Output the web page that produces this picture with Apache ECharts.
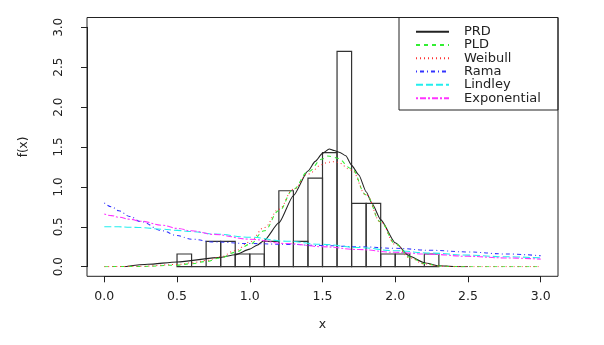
<!DOCTYPE html>
<html>
<head>
<meta charset="utf-8">
<script src="https://cdn.jsdelivr.net/npm/echarts@6/dist/echarts.min.js"></script>
<style>
  html, body { margin: 0; padding: 0; background: #fff; }
  #chart { width: 604px; height: 345px; }
</style>
</head>
<body>
<div id="chart"></div>
<script>
// Histogram of the sample (density scale), bins of width 0.1
const binEdges = [0.5, 0.6, 0.7, 0.8, 0.9, 1.0, 1.1, 1.2, 1.3, 1.4, 1.5, 1.6, 1.7, 1.8, 1.9, 2.0, 2.1, 2.2, 2.3];
const binDensity = [0.159, 0, 0.317, 0.317, 0.159, 0.159, 0.317, 0.952, 0.317, 1.111, 1.429, 2.698, 0.794, 0.794, 0.159, 0.159, 0, 0.159];

// Fitted density curves
const prdX = [0.14, 0.3, 0.5, 0.8, 0.9, 1.0, 1.05, 1.1, 1.2, 1.3, 1.4, 1.45, 1.5, 1.547, 1.58, 1.62, 1.66, 1.7, 1.75, 1.8, 1.84, 1.9, 2.0, 2.1, 2.2, 2.3, 2.4, 2.5];
const prdY = [0.0, 0.03, 0.06, 0.117, 0.15, 0.22, 0.27, 0.33, 0.55, 0.89, 1.2, 1.32, 1.42, 1.475, 1.455, 1.43, 1.39, 1.27, 1.15, 0.94, 0.795, 0.59, 0.3, 0.13, 0.05, 0.012, 0.003, 0.0];

const bellX = [0, 0.25, 0.5, 0.6, 0.7, 0.8, 0.9, 1.0, 1.1, 1.2, 1.3, 1.4, 1.5, 1.53, 1.57, 1.6, 1.7, 1.8, 1.9, 2.0, 2.1, 2.2, 2.3, 2.4, 2.5, 3.0];
const pldY = [0, 0.003, 0.02, 0.038, 0.065, 0.11, 0.18, 0.28, 0.45, 0.70, 0.97, 1.19, 1.35, 1.387, 1.38, 1.36, 1.23, 0.9, 0.56, 0.29, 0.12, 0.04, 0.01, 0.002, 0, 0];
const weibullY = [0, 0.005, 0.028, 0.048, 0.078, 0.125, 0.2, 0.31, 0.49, 0.72, 0.97, 1.16, 1.28, 1.305, 1.316, 1.31, 1.21, 0.9, 0.56, 0.28, 0.11, 0.035, 0.008, 0.001, 0, 0];

const tailX = [0, 0.05, 0.1, 0.175, 0.25, 0.4, 0.5, 0.6, 0.75, 1.0, 1.25, 1.5, 1.75, 2.0, 2.25, 2.5, 2.75, 3.0];
const ramaY = [0.80, 0.75, 0.70, 0.63, 0.565, 0.45, 0.39, 0.345, 0.31, 0.29, 0.28, 0.265, 0.25, 0.23, 0.205, 0.185, 0.16, 0.137];
const lindleyY = [0.50, 0.50, 0.50, 0.495, 0.49, 0.47, 0.455, 0.44, 0.41, 0.37, 0.32, 0.28, 0.24, 0.20, 0.17, 0.145, 0.125, 0.11];
const exponentialY = [0.66, 0.64, 0.62, 0.595, 0.57, 0.52, 0.48, 0.45, 0.405, 0.345, 0.29, 0.25, 0.215, 0.18, 0.155, 0.13, 0.11, 0.095];

const xTicks = [0, 0.5, 1.0, 1.5, 2.0, 2.5, 3.0];
const yTicks = [0, 0.5, 1.0, 1.5, 2.0, 2.5, 3.0];

const seriesNames = ['PRD', 'PLD', 'Weibull', 'Rama', 'Lindley', 'Exponential'];

// layout of the plotting region
const W = 604, H = 345;
const grid = { left: 104.3, right: 63.3, top: 27.3, bottom: 78.3 };
const frame = { x0: 87, y0: 17.5, x1: 558, y1: 276.3 };
const legendBox = { x0: 399, y0: 17.5, x1: 558, y1: 110 };
const FONT = 'DejaVu Sans';
const INK = '#222';

const pairs = (xs, ys) => xs.map((x, i) => [x, ys[i]]);

const histData = binDensity.map((d, i) => [binEdges[i], binEdges[i + 1], d]);

function curve(name, xs, ys, color, dash, smooth) {
  return {
    name, type: 'line', data: pairs(xs, ys),
    symbol: 'none', smooth: smooth, smoothMonotone: 'x',
    lineStyle: { color, width: 1.05, type: dash },
    itemStyle: { color },
    z: 3
  };
}

const chart = echarts.init(document.getElementById('chart'), null, { renderer: 'canvas' });
chart.setOption({
  animation: false,
  backgroundColor: '#fff',
  grid: { left: grid.left, right: grid.right, top: grid.top, bottom: grid.bottom, containLabel: false },
  xAxis: {
    type: 'value', min: xTicks[0], max: xTicks[xTicks.length - 1], interval: 0.5,
    offset: frame.y1 - (H - grid.bottom),
    name: 'x', nameLocation: 'middle', nameGap: 42,
    nameTextStyle: { fontFamily: FONT, fontSize: 12.5, color: INK },
    axisLine: { show: true, onZero: false, lineStyle: { color: INK, width: 1 } },
    axisTick: { show: true, length: 6, lineStyle: { color: INK } },
    axisLabel: { margin: 14, fontFamily: FONT, fontSize: 12.5, color: INK, formatter: v => v.toFixed(1) },
    splitLine: { show: false }
  },
  yAxis: {
    type: 'value', min: yTicks[0], max: yTicks[yTicks.length - 1], interval: 0.5,
    offset: grid.left - frame.x0,
    name: 'f(x)', nameLocation: 'middle', nameGap: 57, nameRotate: 90,
    nameTextStyle: { fontFamily: FONT, fontSize: 12, color: INK },
    axisLine: { show: true, onZero: false, lineStyle: { color: INK, width: 1 } },
    axisTick: { show: true, length: 6, lineStyle: { color: INK } },
    axisLabel: { margin: 22, rotate: 90, fontFamily: FONT, fontSize: 12, color: INK, formatter: v => v.toFixed(1) },
    splitLine: { show: false }
  },
  legend: {
    data: seriesNames,
    orient: 'vertical',
    left: 415, top: 25,
    padding: 0,
    itemWidth: 33, itemHeight: 8, itemGap: 0,
    itemStyle: { color: 'rgba(0,0,0,0)', borderWidth: 0, opacity: 0 },
    textStyle: { fontFamily: FONT, fontSize: 13, color: INK, lineHeight: 13.3, padding: [0, 0, 0, 10] },
    selectedMode: false
  },
  graphic: [
    { type: 'rect', silent: true, z: 10,
      shape: { x: frame.x0, y: frame.y0, width: frame.x1 - frame.x0, height: frame.y1 - frame.y0 },
      style: { fill: 'none', stroke: INK, lineWidth: 1 } },
    { type: 'rect', silent: true, z: 10,
      shape: { x: legendBox.x0, y: legendBox.y0, width: legendBox.x1 - legendBox.x0, height: legendBox.y1 - legendBox.y0 },
      style: { fill: 'none', stroke: INK, lineWidth: 1 } }
  ],
  series: [
    {
      name: 'hist', type: 'custom', data: histData, z: 2,
      encode: { x: [0, 1], y: 2 },
      renderItem: function (params, api) {
        const topLeft = api.coord([api.value(0), api.value(2)]);
        const bottomRight = api.coord([api.value(1), 0]);
        return {
          type: 'rect',
          shape: { x: topLeft[0], y: topLeft[1], width: bottomRight[0] - topLeft[0], height: bottomRight[1] - topLeft[1] },
          style: { fill: 'none', stroke: '#333', lineWidth: 1.2 }
        };
      }
    },
    curve('PRD', prdX, prdY, '#222', 'solid', 0.2),
    curve('PLD', bellX, pldY, '#33ee33', [4, 4], 0.4),
    curve('Weibull', bellX, weibullY, '#ff3333', [1, 3], 0.4),
    curve('Rama', tailX, ramaY, '#3333ff', [1, 3, 4, 3], 0.4),
    curve('Lindley', tailX, lindleyY, '#22eeee', [7, 3], 0.4),
    curve('Exponential', tailX, exponentialY, '#ff33ff', [2, 2, 6, 2], 0.4)
  ]
});
</script>
</body>
</html>
